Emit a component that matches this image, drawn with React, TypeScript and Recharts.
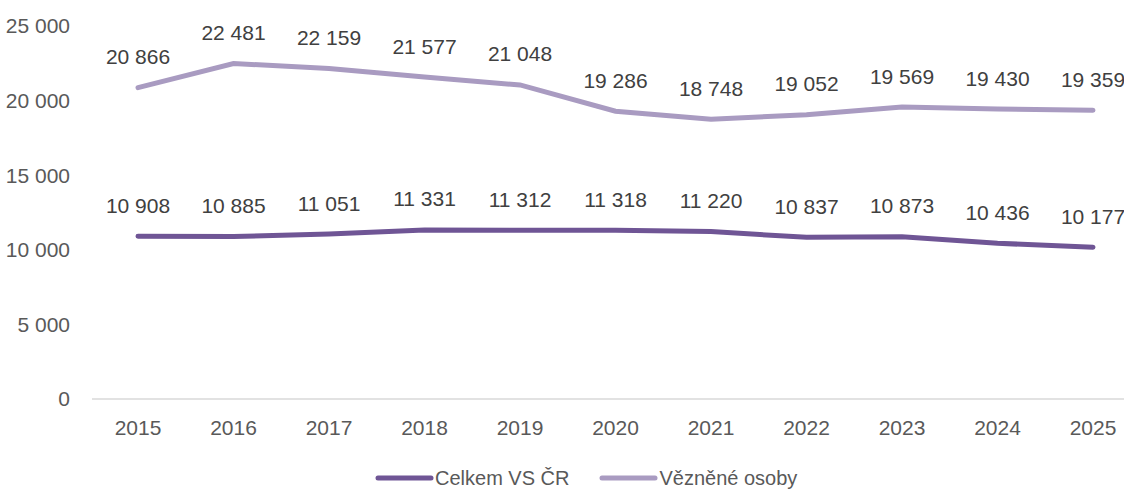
import { Legend, Line, LineChart, XAxis, YAxis, LabelList } from "recharts"

const years = ["2015", "2016", "2017", "2018", "2019", "2020", "2021", "2022", "2023", "2024", "2025"]
const celkem = [10908, 10885, 11051, 11331, 11312, 11318, 11220, 10837, 10873, 10436, 10177]
const vezneni = [20866, 22481, 22159, 21577, 21048, 19286, 18748, 19052, 19569, 19430, 19359]
const yTicks = [0, 5000, 10000, 15000, 20000, 25000]

const DARK = "#6f5595"
const LIGHT = "#a99bc1"
const FONT = "'Liberation Sans', Arial, sans-serif"

const data = years.map((y, i) => ({ year: y, celkem: celkem[i], vezneni: vezneni[i] }))

const fmt = (v: number) => String(v).replace(/\B(?=(\d{3})+(?!\d))/g, " ")

const ValueLabel = (props: any) => {
  const { x, y, value } = props
  return (
    <text x={x} y={y - 31} textAnchor="middle" dominantBaseline="central" fill="#404040" fontSize={21} fontFamily={FONT}>
      {fmt(value)}
    </text>
  )
}

const LegendContent = () => (
  <div style={{ display: "flex", alignItems: "center", height: 20, paddingLeft: 375, fontFamily: FONT, fontSize: 20, color: "#595959" }}>
    <svg width={60} height={10}>
      <line x1={3} y1={5} x2={56} y2={5} stroke={DARK} strokeWidth={5} strokeLinecap="round" />
    </svg>
    <span>Celkem VS ČR</span>
    <svg width={60} height={10} style={{ marginLeft: 30 }}>
      <line x1={3} y1={5} x2={56} y2={5} stroke={LIGHT} strokeWidth={5} strokeLinecap="round" />
    </svg>
    <span>Vězněné osoby</span>
  </div>
)

export default function App() {
  return (
    <div style={{ position: "absolute", left: 0, top: 0, width: 1124, height: 490, background: "#fff" }}>
      <LineChart width={1124} height={490} data={data} margin={{ top: 26, right: 0, left: 0, bottom: 2 }}>
        <XAxis
          dataKey="year"
          scale="point"
          padding={{ left: 46, right: 31 }}
          height={69}
          tickLine={false}
          tickSize={0}
          tickMargin={21}
          axisLine={{ stroke: "#d9d9d9", strokeWidth: 1.5 }}
          tick={{ fill: "#595959", fontSize: 21, fontFamily: FONT }}
        />
        <YAxis
          width={92}
          domain={[0, 25000]}
          ticks={yTicks}
          interval={0}
          axisLine={false}
          tickLine={false}
          tickSize={0}
          tickMargin={22}
          tickFormatter={fmt}
          tick={{ fill: "#595959", fontSize: 21, fontFamily: FONT }}
        />
        <Legend verticalAlign="bottom" height={20} content={<LegendContent />} />
        <Line dataKey="celkem" name="Celkem VS ČR" stroke={DARK} strokeWidth={5} strokeLinecap="round" dot={false} isAnimationActive={false}>
          <LabelList dataKey="celkem" content={<ValueLabel />} />
        </Line>
        <Line dataKey="vezneni" name="Vězněné osoby" stroke={LIGHT} strokeWidth={5} strokeLinecap="round" dot={false} isAnimationActive={false}>
          <LabelList dataKey="vezneni" content={<ValueLabel />} />
        </Line>
      </LineChart>
    </div>
  )
}
